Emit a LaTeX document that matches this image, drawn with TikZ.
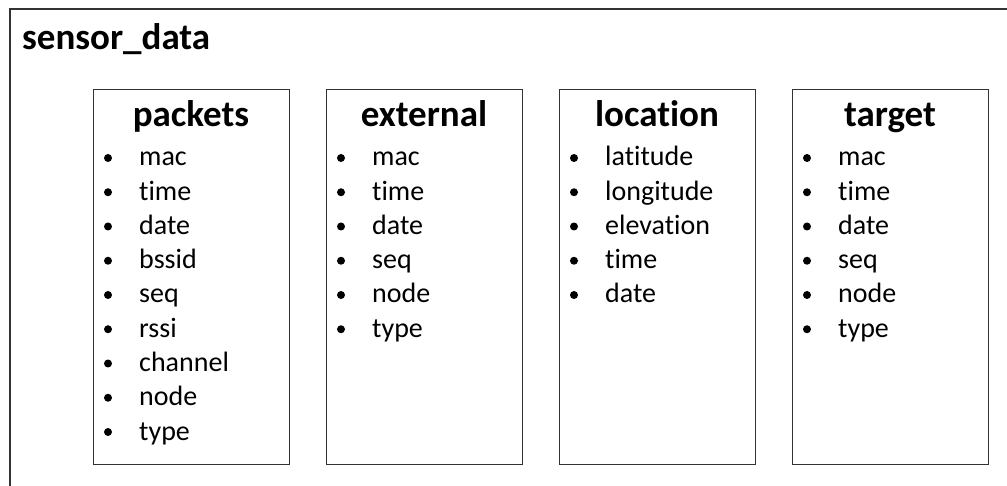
\documentclass[tikz,border=0pt]{standalone}
\usepackage{fontspec}
\setmainfont{Carlito}[Ligatures=NoCommon]
\begin{document}
\begin{tikzpicture}[x=1pt,y=-1pt,
  frame/.style={draw=black!80, line width=1.6pt},
  tablebox/.style={draw=black!80, line width=1.4pt, minimum width=196pt,
    minimum height=375pt, inner sep=0pt, anchor=north west},
  head/.style={font=\fontsize{37}{44}\selectfont\bfseries, anchor=base, inner sep=0pt},
  field/.style={font=\fontsize{28}{34}\selectfont, anchor=base west, inner sep=0pt},
  bullet/.style={circle, fill=black, inner sep=0pt, minimum size=8pt}]
\useasboundingbox (0,0) rectangle (1007,486);
% outer database frame, running off the right and bottom edges
\begin{scope}
  \clip (0,0) rectangle (1007,486);
  \coordinate (fbl) at (10,600);
  \coordinate (ftl) at (10,9);
  \coordinate (ftr) at (1100,9);
  \draw[frame] (fbl) -- (ftl) -- (ftr);
\end{scope}
\node[font=\fontsize{37}{44}\selectfont\bfseries, anchor=base west, inner sep=0pt]
  (title) at (22,50) {sensor\_data};
% one box per table with its list of fields
\foreach \n/\x/\items in {
    packets/93/{mac,time,date,bssid,seq,rssi,channel,node,type},
    external/326/{mac,time,date,seq,node,type},
    location/559/{latitude,longitude,elevation,time,date},
    target/792/{mac,time,date,seq,node,type}} {
  \node[tablebox] (\n) at (\x,89) {};
  \node[head] (\n-head) at ({\x+98},127) {\n};
  \foreach \f [count=\i] in \items {
    \node[bullet] (\n-b\i) at ({\x+15},{158+34.25*(\i-1)}) {};
    \node[field] (\n-f\i) at ({\x+46},{166+34.25*(\i-1)}) {\f};
  }
}
\end{tikzpicture}
\end{document}
